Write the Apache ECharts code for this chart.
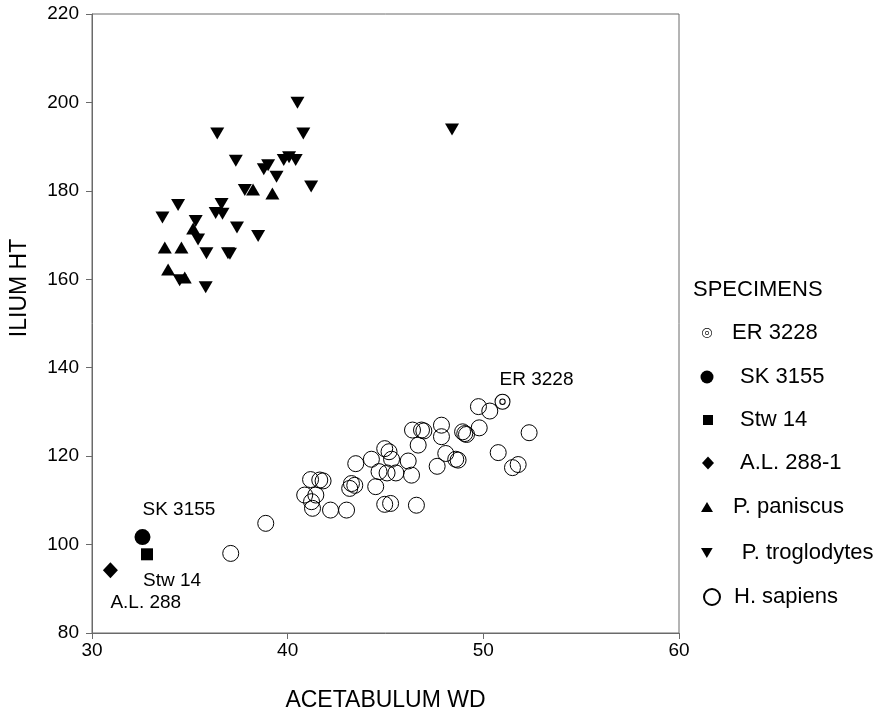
<!DOCTYPE html>
<html>
<head>
<meta charset="utf-8">
<title>Ilium height vs acetabulum width</title>
<script src="https://cdn.jsdelivr.net/npm/echarts@6/dist/echarts.min.js"></script>
<style>
  html, body { margin: 0; padding: 0; background: #fff; }
  #chart { width: 896px; height: 716px; }
</style>
</head>
<body>
<div id="chart"></div>
<script>
const xTicks = [30, 40, 50, 60]
const yTicks = [80, 100, 120, 140, 160, 180, 200, 220]

const seriesNames = ['ER 3228', 'SK 3155', 'Stw 14', 'A.L. 288-1', 'P. paniscus', 'P. troglodytes', 'H. sapiens']
const pointLabels = ['ER 3228', 'SK 3155', 'Stw 14', 'A.L. 288']

const er3228 = [[50.98, 132.3]]
const sk3155 = [[32.58, 101.7]]
const stw14 = [[32.81, 97.8]]
const al288 = [[30.94, 94.2]]

const paniscus = [
  [38.23, 180.3], [39.22, 179.4], [35.17, 171.5], [33.72, 167.2],
  [34.57, 167.2], [33.89, 162.2], [34.74, 160.4]
]

const troglodytes = [
  [40.5, 199.9], [40.8, 193.0], [36.4, 193.0], [48.4, 193.9],
  [37.35, 186.8], [38.78, 184.9], [39.0, 185.8], [39.8, 187.0],
  [40.07, 187.6], [40.41, 187.0], [39.43, 183.2], [41.2, 181.0],
  [37.81, 180.2], [34.4, 176.8], [33.6, 174.0], [36.62, 177.0],
  [36.32, 175.0], [36.67, 174.8], [35.3, 173.2], [35.42, 169.0],
  [37.41, 171.7], [38.49, 169.8], [35.85, 165.9], [36.95, 165.9],
  [37.05, 165.8], [34.48, 159.8], [35.81, 158.2]
]

const sapiens = [
  [41.17, 114.7], [41.64, 114.6], [41.81, 114.4], [40.87, 111.2],
  [41.44, 111.2], [41.22, 109.7], [41.27, 108.2], [42.19, 107.8],
  [43.01, 107.8], [43.26, 113.8], [43.17, 112.7], [43.43, 113.4],
  [43.48, 118.3], [44.28, 119.3], [44.5, 113.1], [44.96, 121.7],
  [45.18, 121.0], [45.31, 119.3], [44.67, 116.5], [45.08, 116.2],
  [45.53, 116.2], [46.16, 118.9], [46.33, 115.7], [44.96, 109.1],
  [45.26, 109.3], [46.58, 108.9], [46.67, 122.5], [46.38, 125.9],
  [46.84, 125.9], [46.96, 125.7], [47.86, 127.0], [47.86, 124.4],
  [48.08, 120.6], [47.64, 117.7], [48.59, 119.3], [48.71, 119.1],
  [48.94, 125.5], [49.05, 125.1], [49.14, 124.9], [49.79, 126.4],
  [49.75, 131.2], [50.33, 130.2], [50.76, 120.8], [51.49, 117.4],
  [51.78, 118.1], [52.34, 125.3], [37.09, 98.0], [38.88, 104.8]
]

const font = 'Liberation Sans, Arial, sans-serif'
// concentric rings for ER 3228
const ringPath = 'path://M10,0A10,10,0,1,1,10,20A10,10,0,1,1,10,0Z' +
  'M10,1.3A8.7,8.7,0,1,0,10,18.7A8.7,8.7,0,1,0,10,1.3Z' +
  'M10,6A4,4,0,1,1,10,14A4,4,0,1,1,10,6Z' +
  'M10,7.3A2.7,2.7,0,1,0,10,12.7A2.7,2.7,0,1,0,10,7.3Z'
const downTriangle = 'path://M0,0L14,0L7,12Z'

const chart = echarts.init(document.getElementById('chart'))

function pointLabel (text, dx, dy) {
  return {
    show: true,
    formatter: text,
    position: 'inside',
    align: 'left',
    verticalAlign: 'middle',
    offset: [dx, dy],
    color: '#000',
    opacity: 1,
    fontSize: 19,
    fontFamily: font
  }
}

const legendRows = [
  { cx: 707, cy: 333, w: 10, h: 10, textX: 732 },
  { cx: 707, cy: 377, w: 13, h: 13, textX: 740 },
  { cx: 708, cy: 420, w: 10, h: 10, textX: 740 },
  { cx: 708, cy: 463, w: 12, h: 13, textX: 740 },
  { cx: 707, cy: 507, w: 12, h: 10, textX: 733 },
  { cx: 707, cy: 553, w: 12, h: 10, textX: 742 },
  { cx: 711, cy: 597, w: 16, h: 16, textX: 733 }
]

const axisColor = '#6a6a6a'
const black = { color: '#000', opacity: 1 }

chart.setOption({
  animation: false,
  backgroundColor: '#fff',
  title: {
    text: 'SPECIMENS',
    left: 693,
    top: 279,
    padding: 0,
    textStyle: { fontSize: 22, fontWeight: 'normal', color: '#000', fontFamily: font }
  },
  legend: legendRows.map((r, i) => ({
    data: [i === 5 ? { name: seriesNames[i], icon: downTriangle } : seriesNames[i]],
    orient: 'vertical',
    left: r.cx - r.w / 2,
    top: r.cy - 11,
    padding: 0,
    itemWidth: r.w,
    itemHeight: r.h,
    selectedMode: false,
    textStyle: {
      fontSize: 22,
      color: '#000',
      fontFamily: font,
      padding: [0, 0, 0, r.textX - (r.cx + r.w / 2) - 5]
    }
  })),
  grid: {
    left: 92,
    top: 14,
    right: 217,
    bottom: 83,
    outerBoundsMode: 'none',
    show: true,
    borderColor: axisColor,
    borderWidth: 1
  },
  xAxis: {
    type: 'value',
    min: xTicks[0],
    max: xTicks[xTicks.length - 1],
    interval: xTicks[1] - xTicks[0],
    name: 'ACETABULUM WD',
    nameLocation: 'middle',
    nameGap: 56,
    nameTextStyle: { fontSize: 23, color: '#000', fontFamily: font },
    axisLine: { show: true, lineStyle: { color: axisColor, width: 1 } },
    axisTick: { show: true, length: 6, lineStyle: { color: axisColor } },
    axisLabel: { color: '#000', fontSize: 19, margin: 8, fontFamily: font },
    splitLine: { show: false }
  },
  yAxis: {
    type: 'value',
    min: yTicks[0],
    max: yTicks[yTicks.length - 1],
    interval: yTicks[1] - yTicks[0],
    axisLine: { show: true, lineStyle: { color: axisColor, width: 1 } },
    axisTick: { show: true, length: 6, lineStyle: { color: axisColor } },
    axisLabel: { color: '#000', fontSize: 19, margin: 13, fontFamily: font },
    splitLine: { show: false }
  },
  graphic: [{
    type: 'text',
    x: 20,
    y: 288,
    rotation: Math.PI / 2,
    style: {
      text: 'ILIUM HT',
      fontSize: 23,
      fontFamily: font,
      fill: '#000',
      align: 'center',
      verticalAlign: 'middle'
    }
  }],
  series: [
    {
      name: seriesNames[6],
      type: 'scatter',
      data: sapiens,
      symbol: 'circle',
      symbolSize: 16,
      itemStyle: { color: 'rgba(0,0,0,0)', borderColor: '#000', borderWidth: 1, opacity: 1 },
      z: 2
    },
    {
      name: seriesNames[5],
      type: 'scatter',
      data: troglodytes,
      symbol: 'triangle',
      symbolRotate: 180,
      symbolSize: [14, 12],
      itemStyle: black,
      z: 3
    },
    {
      name: seriesNames[4],
      type: 'scatter',
      data: paniscus,
      symbol: 'triangle',
      symbolSize: [14, 12],
      itemStyle: black,
      z: 3
    },
    {
      name: seriesNames[0],
      type: 'scatter',
      data: er3228,
      symbol: ringPath,
      symbolSize: 16,
      itemStyle: black,
      label: pointLabel(pointLabels[0], -3, -22),
      z: 4
    },
    {
      name: seriesNames[1],
      type: 'scatter',
      data: sk3155,
      symbol: 'circle',
      symbolSize: 16,
      itemStyle: black,
      label: pointLabel(pointLabels[1], 0, -27),
      z: 4
    },
    {
      name: seriesNames[2],
      type: 'scatter',
      data: stw14,
      symbol: 'rect',
      symbolSize: 12,
      itemStyle: black,
      label: pointLabel(pointLabels[2], -4, 26),
      z: 4
    },
    {
      name: seriesNames[3],
      type: 'scatter',
      data: al288,
      symbol: 'diamond',
      symbolSize: [15, 16],
      itemStyle: black,
      label: pointLabel(pointLabels[3], 0, 33),
      z: 4
    }
  ]
})
</script>
</body>
</html>
